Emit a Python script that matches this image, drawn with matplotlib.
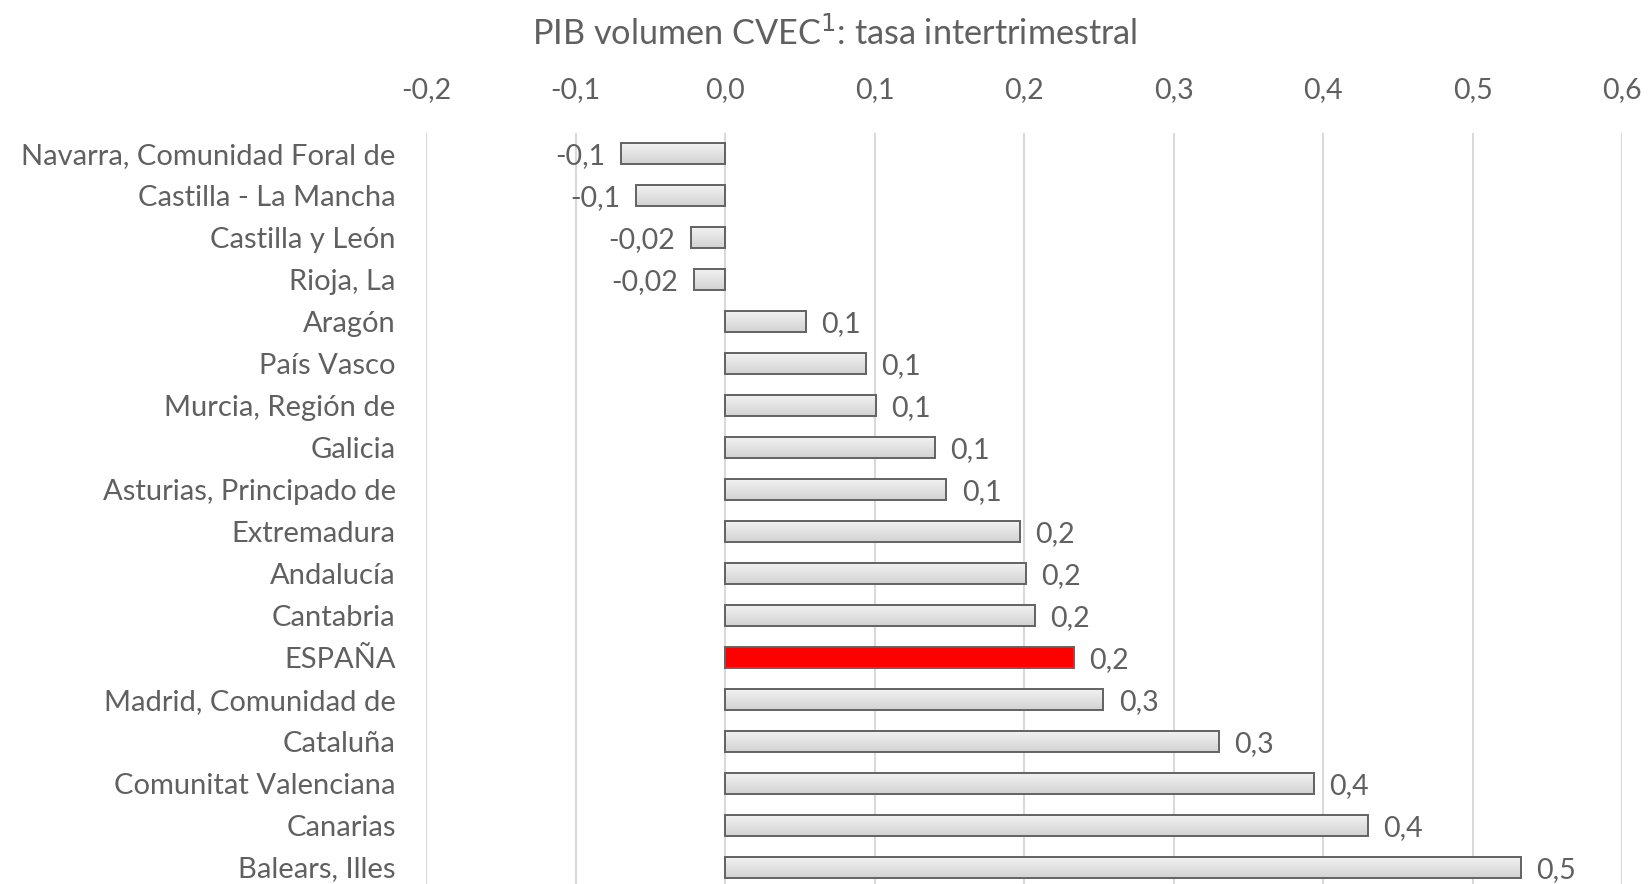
import numpy as np
import matplotlib.pyplot as plt
from matplotlib.colors import LinearSegmentedColormap
from matplotlib.ticker import FuncFormatter

# ============================================================
# DATA
# ============================================================
regiones = [
    "Navarra, Comunidad Foral de", "Castilla - La Mancha", "Castilla y León",
    "Rioja, La", "Aragón", "País Vasco", "Murcia, Región de", "Galicia",
    "Asturias, Principado de", "Extremadura", "Andalucía", "Cantabria",
    "ESPAÑA", "Madrid, Comunidad de", "Cataluña", "Comunitat Valenciana",
    "Canarias", "Balears, Illes",
]
tasa = [-0.070, -0.060, -0.023, -0.021, 0.054, 0.094, 0.101, 0.140, 0.148,
        0.197, 0.201, 0.207, 0.233, 0.253, 0.330, 0.394, 0.430, 0.532]
etiquetas = ["-0,1", "-0,1", "-0,02", "-0,02", "0,1", "0,1", "0,1", "0,1", "0,1",
             "0,2", "0,2", "0,2", "0,2", "0,3", "0,3", "0,4", "0,4", "0,5"]
x_ticks = [-0.2, -0.1, 0.0, 0.1, 0.2, 0.3, 0.4, 0.5, 0.6]

TEXT = "#606060"
plt.rcParams["font.family"] = ["Lato", "DejaVu Sans"]

fig = plt.figure(figsize=(16.52, 8.84), dpi=100)
ax = fig.add_axes([0.258, 0.0, 0.724, 0.85])

y = np.arange(len(regiones))
colors = ["#ff0000" if r == "ESPAÑA" else "#e2e2e2" for r in regiones]
bars = ax.barh(y, tasa, height=0.5, color=colors, edgecolor="#626262",
               linewidth=1.4, zorder=3)

# gradient fill on the grey bars
grad = np.linspace(0, 1, 64).reshape(-1, 1)
cmap_gris = LinearSegmentedColormap.from_list("g", ["#f2f2f2", "#d2d2d2"])
for b, r in zip(bars, regiones):
    if r == "ESPAÑA":
        continue
    x0, y0 = b.get_x(), b.get_y()
    w, h = b.get_width(), b.get_height()
    im = ax.imshow(grad, cmap=cmap_gris, aspect="auto",
                   extent=[x0, x0 + w, y0 + h, y0], zorder=3.5,
                   interpolation="bicubic")
    im.set_clip_path(b)
    b.set_facecolor("none")
    b.set_zorder(4)

for yi, v, lab in zip(y, tasa, etiquetas):
    if v < 0:
        ax.annotate(lab, (v, yi), xytext=(-11, -2), textcoords="offset points",
                    ha="right", va="center", fontsize=20.5, color=TEXT)
    else:
        ax.annotate(lab, (v, yi), xytext=(11, -2), textcoords="offset points",
                    ha="left", va="center", fontsize=20.5, color=TEXT)

ax.set_xlim(-0.2, 0.6)
ax.set_ylim(17.5 - 4 / 42, -0.5)
ax.set_xticks(x_ticks)
ax.xaxis.set_major_formatter(FuncFormatter(lambda v, p: f"{v:.1f}".replace(".", ",")))
ax.xaxis.tick_top()
ax.set_yticks(y)
ax.set_yticklabels(regiones)
ax.tick_params(axis="both", length=0, labelsize=20.5, colors=TEXT)
ax.tick_params(axis="y", pad=22, labelsize=21)
ax.tick_params(axis="x", pad=21)
ax.grid(axis="x", color="#d9d9d9", linewidth=1.5, zorder=0)
for s in ax.spines.values():
    s.set_visible(False)

fig.text(0.505, 0.963, "PIB volumen CVEC$^{1}$: tasa intertrimestral",
         ha="center", va="center", fontsize=24.7, color=TEXT)

fig.savefig("out.png", dpi=100)
